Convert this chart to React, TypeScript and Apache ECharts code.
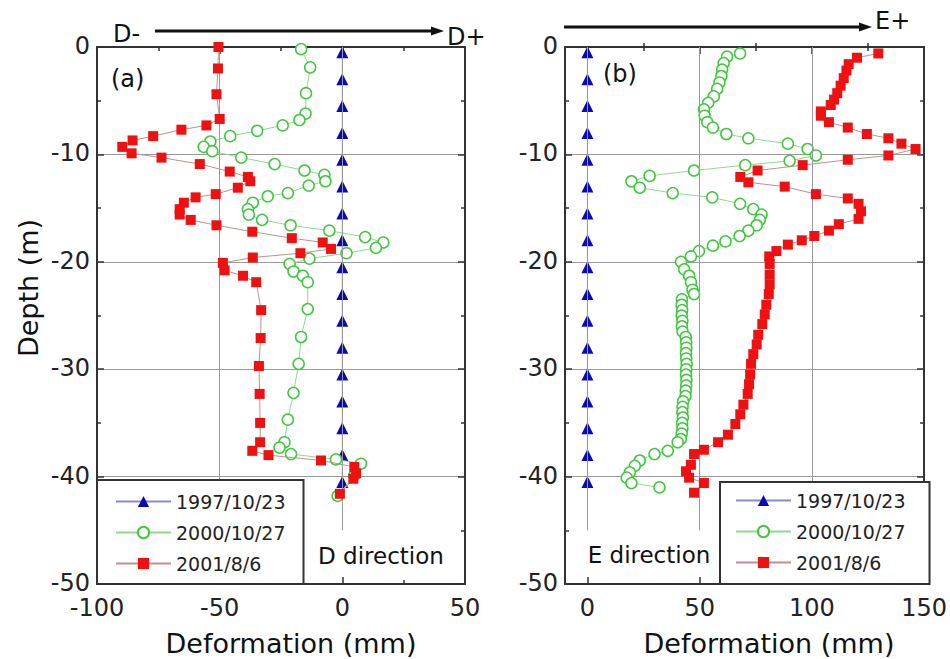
import React, { useEffect, useRef } from 'react';
import * as echarts from 'echarts';

const FONT = '"DejaVu Sans", sans-serif';
const seriesNames = ['1997/10/23', '2000/10/27', '2001/8/6'];

// Panel (a): D direction
const aBlueDepth = [-0.5, -3, -5.5, -8, -10.5, -13, -15.5, -18, -20.5, -23, -25.5, -28, -30.5, -33, -35.5, -38, -40.5];
const aBlueDef = [0, 0, 0, 0, 0, 0, 0, 0, 0, 0, 0, 0, 0, 0, 0, 0, 0];
const aGreenDepth = [-0.2, -1.9, -4.3, -6.2, -6.8, -7.3, -7.8, -8.3, -8.8, -9.3, -9.7, -10.3, -10.9, -11.5, -11.9, -12.5, -12.9, -13.6, -13.9, -14.5, -15.1, -15.6, -16.1, -16.6, -17.1, -17.7, -18.2, -18.7, -19.2, -19.7, -20.2, -20.9, -21.3, -21.9, -24.4, -27.0, -29.5, -32.2, -34.7, -36.8, -37.3, -37.9, -38.4, -38.8, -39.9, -41.8];
const aGreenDef = [-16.8, -13.1, -14.8, -15.0, -17.5, -24.3, -34.7, -45.7, -53.8, -56.5, -53.0, -41.2, -27.6, -15.4, -7.3, -6.9, -13.7, -22.2, -30.4, -36.5, -38.5, -38.1, -32.7, -21.1, -5.3, 9.3, 16.7, 13.7, 1.7, -13.4, -21.5, -19.9, -16.1, -14.1, -14.1, -16.8, -17.8, -19.9, -22.2, -23.6, -25.6, -20.9, -2.6, 7.6, 4.9, -1.9];
const aRedDepth = [0, -2, -4.4, -6.7, -7.3, -7.7, -8.3, -8.7, -9.3, -9.9, -10.3, -10.9, -11.6, -12.1, -12.5, -13.1, -13.7, -14.0, -14.5, -15.1, -15.6, -16.1, -16.6, -17.2, -17.8, -18.2, -18.8, -19.2, -19.6, -20.1, -20.8, -21.3, -21.9, -24.5, -27.1, -29.7, -32.3, -35.0, -36.8, -37.6, -38.0, -38.5, -39.1, -39.7, -40.2, -41.6];
const aRedDef = [-50.5, -50.7, -51.3, -50, -55.4, -65.6, -77.1, -85.5, -89.7, -85.9, -73.7, -58.1, -45.9, -38.5, -37.5, -42.6, -51.6, -59.8, -64.6, -66.3, -66.3, -61.8, -51.3, -36.7, -20.6, -8.0, -4.6, -17.1, -36.5, -48.7, -48, -40.5, -35.1, -33.1, -33.3, -34.0, -33.7, -33.5, -33.5, -36.7, -30.1, -8.7, 4.9, 5.6, 4.5, -1.0];

// Panel (b): E direction
const bBlueDepth = [-0.5, -3, -5.5, -8, -10.5, -13, -15.5, -18, -20.5, -23, -25.5, -28, -30.5, -33, -35.5, -38, -40.5];
const bBlueDef = [0, 0, 0, 0, 0, 0, 0, 0, 0, 0, 0, 0, 0, 0, 0, 0, 0];
const bGreenDepth = [-0.6, -0.9, -1.5, -2.1, -2.7, -3.3, -3.9, -4.6, -5.2, -5.8, -6.4, -7.0, -7.5, -8.1, -8.5, -9.0, -9.5, -10.1, -10.6, -11.0, -11.5, -12.0, -12.5, -13.1, -13.6, -14.0, -14.6, -15.1, -15.6, -16.1, -16.6, -17.1, -17.6, -18.1, -18.5, -19.0, -19.5, -20.0, -20.7, -21.3, -21.9, -22.6, -23.0, -23.5, -24.0, -24.5, -25.0, -25.5, -26.0, -26.5, -27.0, -27.5, -28.0, -28.5, -29.0, -29.5, -30.0, -30.5, -31.0, -31.5, -32.0, -32.5, -33.0, -33.5, -34.0, -34.5, -35.0, -35.5, -36.0, -36.5, -36.8, -37.6, -37.9, -38.5, -39.0, -39.6, -40.1, -40.6, -41.0];
const bGreenDef = [68.0, 62.2, 60.7, 60.0, 59.7, 58.8, 57.8, 56.3, 53.8, 51.9, 52.2, 53.4, 55.9, 61.9, 71.7, 89.3, 98.1, 101.8, 90.1, 70.3, 47.5, 27.7, 19.6, 23.3, 38.0, 55.6, 68.0, 73.9, 77.6, 76.8, 75.4, 71.7, 67.8, 61.5, 55.9, 49.7, 46.1, 41.7, 43.1, 45.3, 46.1, 46.8, 47.5, 42.1, 42.0, 42.2, 42.0, 42.3, 42.1, 42.4, 43.8, 44.0, 44.1, 43.9, 44.0, 44.2, 44.0, 43.9, 44.1, 44.0, 43.8, 43.7, 42.6, 42.4, 42.3, 42.5, 42.2, 42.3, 42.0, 41.6, 40.2, 35.8, 29.9, 23.3, 21.1, 18.9, 17.5, 19.6, 32.1];
const bRedDepth = [-0.6, -1.0, -1.6, -2.2, -2.9, -3.6, -4.3, -4.9, -5.4, -6.0, -6.4, -7.0, -7.5, -8.1, -8.5, -9.0, -9.5, -10.1, -10.5, -11.0, -11.5, -12.1, -12.6, -13.0, -13.7, -14.1, -14.6, -15.3, -16.0, -16.5, -17.1, -17.6, -18.0, -18.4, -19.0, -19.5, -20.2, -21.2, -22.1, -23.0, -24.0, -24.9, -25.8, -26.8, -27.7, -28.6, -29.5, -30.5, -31.4, -32.3, -33.3, -34.2, -35.1, -36.1, -36.8, -37.5, -37.9, -38.9, -39.5, -40.1, -40.6, -41.5];
const bRedDef = [129.6, 120.1, 116.4, 115.4, 114.2, 112.8, 111.3, 109.9, 108.4, 104.0, 104.0, 107.6, 116.0, 124.5, 134.1, 139.9, 146.2, 134.1, 116.0, 95.9, 75.8, 68.1, 71.7, 87.9, 101.8, 116.0, 120.8, 121.9, 120.8, 112.0, 107.6, 101.1, 95.5, 89.3, 84.2, 81.0, 81.2, 81.2, 81.2, 80.8, 79.7, 79.0, 77.9, 76.1, 75.4, 73.9, 72.9, 72.5, 72.0, 71.4, 69.5, 68.1, 65.9, 62.6, 58.2, 51.9, 47.5, 46.1, 43.9, 45.3, 51.9, 47.5];

// Axis ticks
const depthMin = -50;
const depthMax = 0;
const depthStep = 10;
const aDefMin = -100;
const aDefMax = 50;
const aDefStep = 50;
const bDefMin = -10;
const bDefMax = 150;
const bMajorTicks = [0, 50, 100, 150];
const bMinorTicks = [25, 75, 125];
const aVerticalGrid = [-50, 0];
const bVerticalGrid = [0, 50, 100];
const gridDepthEnd = -45;

const pairs = (defs: number[], depths: number[]) => defs.map((v, i) => [v, depths[i]]);

const AX = '#333';
const GRIDC = '#9a9a9a';
const BLUE = '#0a0ab4';
const GREEN = '#3fc83f';
const RED = '#ee1111';

function makeSeries(xi: number, yi: number, blue: number[][], green: number[][], red: number[][], vGrid: number[]) {
  return [
    {
      type: 'line', name: 'grid-helper', xAxisIndex: xi, yAxisIndex: yi, data: [], z: 1, silent: true,
      markLine: {
        silent: true, symbol: ['none', 'none'], label: { show: false },
        lineStyle: { color: GRIDC, width: 1, type: 'solid' },
        data: vGrid.map((v) => [{ coord: [v, depthMax] }, { coord: [v, gridDepthEnd] }]),
      },
    },
    {
      type: 'line', name: seriesNames[0], xAxisIndex: xi, yAxisIndex: yi, data: blue, z: 3,
      symbol: 'triangle', symbolSize: 12, itemStyle: { color: BLUE },
      lineStyle: { color: '#8a8ad0', width: 1 },
    },
    {
      type: 'line', name: seriesNames[1], xAxisIndex: xi, yAxisIndex: yi, data: green, z: 4,
      symbol: 'circle', symbolSize: 11,
      itemStyle: { color: '#ffffff', borderColor: GREEN, borderWidth: 1.5 },
      lineStyle: { color: '#8fd98f', width: 1 },
    },
    {
      type: 'line', name: seriesNames[2], xAxisIndex: xi, yAxisIndex: yi, data: red, z: 5,
      symbol: 'rect', symbolSize: 10, itemStyle: { color: RED },
      lineStyle: { color: '#c09090', width: 1 },
    },
  ];
}

const axisLine = { show: true, onZero: false, lineStyle: { color: AX, width: 2 } };
const labelStyle = { fontFamily: FONT, fontSize: 24, color: '#222' };

export default function App() {
  const ref = useRef<HTMLDivElement>(null);
  useEffect(() => {
    if (!ref.current) return;
    const chart = echarts.init(ref.current, null, { renderer: 'svg' });
    const legendBase = {
      orient: 'vertical', data: seriesNames, selectedMode: false,
      itemWidth: 55, itemHeight: 14, itemGap: 12,
      backgroundColor: '#fff', borderColor: AX, borderWidth: 2, borderRadius: 0,
      textStyle: { fontFamily: FONT, fontSize: 19, color: '#222' },
      z: 10,
    };
    const text = (x: number, y: number, t: string, size: number, align = 'left', rotation = 0) => ({
      type: 'text', x, y, rotation, z: 20,
      style: { text: t, font: `${size}px "DejaVu Sans", sans-serif`, fill: '#111', textAlign: align, textVerticalAlign: 'middle' },
    });
    chart.setOption({
      animation: false,
      backgroundColor: '#fff',
      grid: [
        { left: 97, top: 47, width: 368, height: 537 },
        { left: 565, top: 47, width: 363, height: 537 },
      ],
      xAxis: [
        {
          type: 'value', gridIndex: 0, position: 'bottom', min: aDefMin, max: aDefMax, interval: aDefStep,
          axisLine, axisTick: { show: true, inside: true, length: 7, lineStyle: { color: AX, width: 1.5 } },
          minorTick: { show: true, splitNumber: 2, length: 4, lineStyle: { color: AX, width: 1.5 } },
          axisLabel: { ...labelStyle, margin: 12 }, splitLine: { show: false },
        },
        {
          type: 'value', gridIndex: 0, position: 'top', min: aDefMin, max: aDefMax, interval: aDefStep,
          axisLine, axisTick: { show: true, inside: true, length: 7, lineStyle: { color: AX, width: 1.5 } },
          minorTick: { show: true, splitNumber: 2, length: 4, lineStyle: { color: AX, width: 1.5 } },
          axisLabel: { show: false }, splitLine: { show: false },
        },
        {
          type: 'value', gridIndex: 1, position: 'bottom', min: bDefMin, max: bDefMax,
          axisLine, axisTick: { show: true, inside: true, length: 7, customValues: bMajorTicks, lineStyle: { color: AX, width: 1.5 } },
          axisLabel: { ...labelStyle, margin: 12, customValues: bMajorTicks }, splitLine: { show: false },
        },
        {
          type: 'value', gridIndex: 1, position: 'bottom', min: bDefMin, max: bDefMax,
          axisLine: { show: false }, axisTick: { show: true, inside: true, length: 4, customValues: bMinorTicks, lineStyle: { color: AX, width: 1.5 } },
          axisLabel: { show: false }, splitLine: { show: false },
        },
        {
          type: 'value', gridIndex: 1, position: 'top', min: bDefMin, max: bDefMax,
          axisLine, axisTick: { show: true, inside: true, length: 7, customValues: bMajorTicks, lineStyle: { color: AX, width: 1.5 } },
          axisLabel: { show: false }, splitLine: { show: false },
        },
        {
          type: 'value', gridIndex: 1, position: 'top', min: bDefMin, max: bDefMax,
          axisLine: { show: false }, axisTick: { show: true, inside: true, length: 4, customValues: bMinorTicks, lineStyle: { color: AX, width: 1.5 } },
          axisLabel: { show: false }, splitLine: { show: false },
        },
      ],
      yAxis: [0, 1].flatMap((g) => [
        {
          type: 'value', gridIndex: g, position: 'left', min: depthMin, max: depthMax, interval: depthStep,
          axisLine, axisTick: { show: true, inside: true, length: 7, lineStyle: { color: AX, width: 1.5 } },
          minorTick: { show: true, splitNumber: 2, length: 4, lineStyle: { color: AX, width: 1.5 } },
          axisLabel: { ...labelStyle, margin: 7, verticalAlign: 'bottom', lineHeight: 20, padding: [0, 0, -9, 0] },
          splitLine: { show: true, lineStyle: { color: GRIDC, width: 1 } },
        },
        {
          type: 'value', gridIndex: g, position: 'right', min: depthMin, max: depthMax, interval: depthStep,
          axisLine, axisTick: { show: true, inside: true, length: 7, lineStyle: { color: AX, width: 1.5 } },
          minorTick: { show: true, splitNumber: 2, length: 4, lineStyle: { color: AX, width: 1.5 } },
          axisLabel: { show: false }, splitLine: { show: false },
        },
      ]),
      legend: [
        { ...legendBase, left: 97, top: 480, padding: [12, 18, 11, 18] },
        { ...legendBase, left: 720, top: 482, padding: [9, 24, 12, 15] },
      ],
      series: [
        ...makeSeries(0, 0, pairs(aBlueDef, aBlueDepth), pairs(aGreenDef, aGreenDepth), pairs(aRedDef, aRedDepth), aVerticalGrid),
        ...makeSeries(2, 2, pairs(bBlueDef, bBlueDepth), pairs(bGreenDef, bGreenDepth), pairs(bRedDef, bRedDepth), bVerticalGrid),
      ],
      graphic: [
        { type: 'line', z: 20, shape: { x1: 155, y1: 31, x2: 434, y2: 31 }, style: { stroke: '#111', lineWidth: 3 } },
        { type: 'polygon', z: 20, shape: { points: [[444, 31], [431, 26.5], [431, 35.5]] }, style: { fill: '#111' } },
        { type: 'line', z: 20, shape: { x1: 564, y1: 27, x2: 862, y2: 27 }, style: { stroke: '#111', lineWidth: 3 } },
        { type: 'polygon', z: 20, shape: { points: [[872, 27], [859, 22.5], [859, 31.5]] }, style: { fill: '#111' } },
        text(113, 34, 'D-', 24),
        text(447, 37, 'D+', 24),
        text(875, 21, 'E+', 24),
        text(111, 79, '(a)', 24),
        text(603, 74, '(b)', 24),
        text(381, 556, 'D direction', 23, 'center'),
        text(649, 555, 'E direction', 23, 'center'),
        text(28, 288, 'Depth (m)', 27, 'center', Math.PI / 2),
        text(291, 643, 'Deformation (mm)', 27, 'center'),
        text(769, 643, 'Deformation (mm)', 27, 'center'),
      ],
    });
    return () => chart.dispose();
  }, []);
  return <div ref={ref} style={{ position: 'fixed', left: 0, top: 0, width: 950, height: 659, background: '#fff' }} />;
}
